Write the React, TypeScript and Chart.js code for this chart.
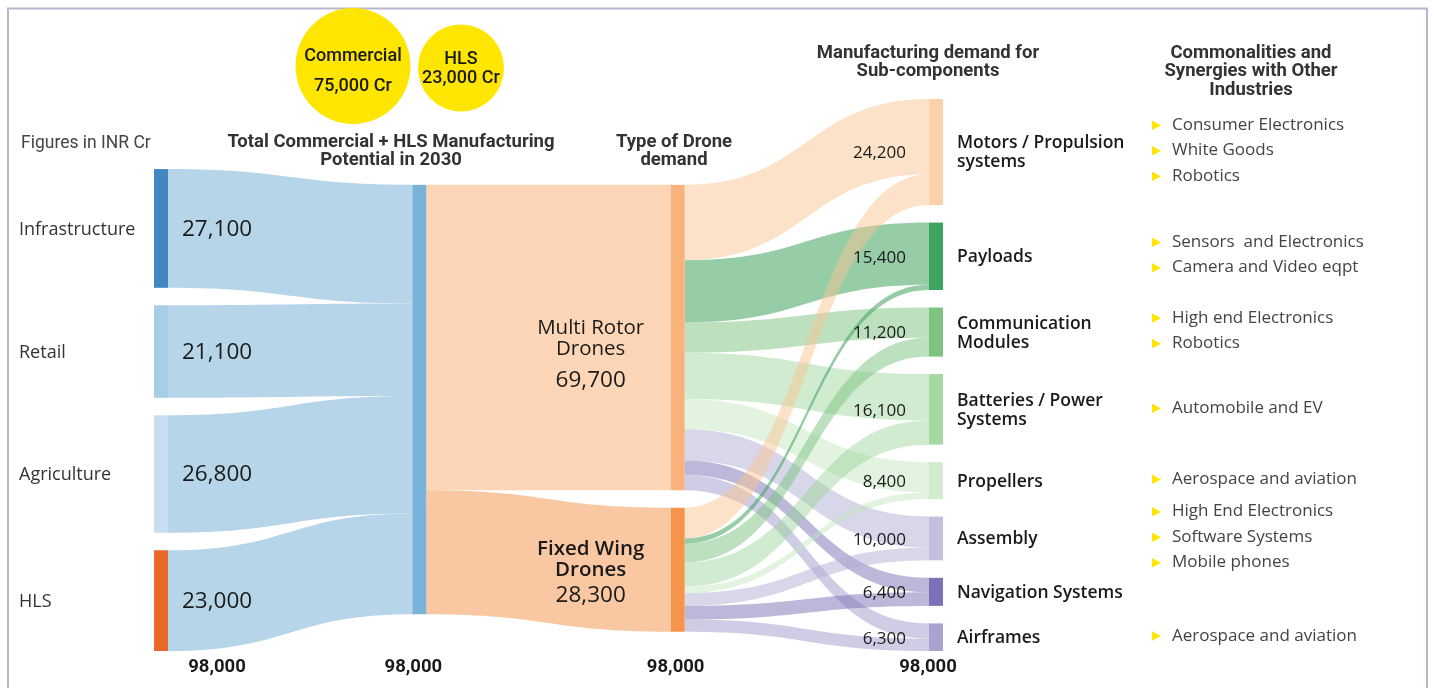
import React, { useEffect, useRef } from "react";
import { Chart, registerables } from "chart.js";

Chart.register(...registerables);

// ---------------- data ----------------
const unitNote = "Figures in INR Cr";
const segmentLabels = ["Infrastructure", "Retail", "Agriculture", "HLS"];
const segmentValues = [27100, 21100, 26800, 23000];
const splitLabels = ["Commercial", "HLS"];
const splitValues = [75000, 23000];
const droneTypeLabels = [
  ["Multi Rotor", "Drones"],
  ["Fixed Wing", "Drones"],
];
const droneTypeValues = [69700, 28300];
const componentLabels = [
  ["Motors / Propulsion", "systems"],
  ["Payloads"],
  ["Communication", "Modules"],
  ["Batteries / Power", "Systems"],
  ["Propellers"],
  ["Assembly"],
  ["Navigation Systems"],
  ["Airframes"],
];
const componentValues = [24200, 15400, 11200, 16100, 8400, 10000, 6400, 6300];
const multiRotorToComponent = [17200, 14200, 6900, 10600, 6900, 7100, 3300, 3500];
const fixedWingToComponent = [7000, 1200, 4300, 5500, 1500, 2900, 3100, 2800];
const synergyLabels = [
  ["Consumer Electronics", "White Goods", "Robotics"],
  ["Sensors  and Electronics", "Camera and Video eqpt"],
  ["High end Electronics", "Robotics"],
  ["Automobile and EV"],
  ["Aerospace and aviation"],
  ["High End Electronics", "Software Systems", "Mobile phones"],
  [],
  ["Aerospace and aviation"],
];
const columnTitles = [
  ["Total Commercial + HLS Manufacturing", "Potential in 2030"],
  ["Type of Drone", "demand"],
  ["Manufacturing demand for", "Sub-components"],
  ["Commonalities and", "Synergies with Other", "Industries"],
];

// ---------------- styles / layout ----------------
const FONT = '"Open Sans", "Noto Sans", sans-serif';
const HEAD = 'Roboto, "Noto Sans", sans-serif';
const NODE_W = 14;
const GAP = 4; // thousands
const COL_OFFSET = [16, 19.6, 19.6, 0]; // thousands
const segmentNodeColors = ["#4387c2", "#a8cde6", "#c8def0", "#e8692a"];
const totalNodeColor = "#7ab3d9";
const segmentLinkColor = "#b7d5e8";
const typeNodeColors = ["#f9b27b", "#f7944b"];
const typeLinkColors = ["#fcd6b6", "#f9c7a1"];
const componentNodeColors = ["#f9d1aa", "#3fa45f", "#7cc47f", "#a6d8a4", "#d0ebcd", "#c3c0de", "#7a71b6", "#a9a3cf"];
const componentLinkColors = [
  "rgba(247,197,148,0.5)",
  "rgba(63,164,95,0.55)",
  "rgba(124,196,127,0.5)",
  "rgba(150,210,148,0.45)",
  "rgba(190,228,186,0.45)",
  "rgba(178,175,214,0.5)",
  "rgba(122,113,182,0.5)",
  "rgba(160,154,204,0.5)",
];
const YELLOW = "#ffe600";

const fmt = (v: number) => v.toLocaleString("en-US");
const sum = (a: number[]) => a.reduce((p, c) => p + c, 0);

type N = { v: number; color: string; y0: number; y1: number; out: number; inn: number };

const sankeyPlugin = {
  id: "sankeyDraw",
  afterDraw(chart: any) {
    const ctx: CanvasRenderingContext2D = chart.ctx;
    const xs = chart.scales.x;
    const ys = chart.scales.y;
    const X = (c: number) => xs.getPixelForValue(c);
    const Y = (v: number) => ys.getPixelForValue(v);

    const mk = (v: number, color: string): N => ({ v: v / 1000, color, y0: 0, y1: 0, out: 0, inn: 0 });
    const cols: N[][] = [
      segmentValues.map((v, i) => mk(v, segmentNodeColors[i])),
      [mk(sum(segmentValues), totalNodeColor)],
      droneTypeValues.map((v, i) => mk(v, typeNodeColors[i])),
      componentValues.map((v, i) => mk(v, componentNodeColors[i])),
    ];
    cols.forEach((nodes, c) => {
      let y = COL_OFFSET[c];
      nodes.forEach((n) => {
        n.y0 = y;
        n.y1 = y + n.v;
        n.out = y;
        n.inn = y;
        y = n.y1 + GAP;
      });
    });

    const links: { s: N; t: N; c: number; v: number; color: string }[] = [];
    segmentValues.forEach((v, i) => links.push({ s: cols[0][i], t: cols[1][0], c: 0, v: v / 1000, color: segmentLinkColor }));
    droneTypeValues.forEach((v, j) => links.push({ s: cols[1][0], t: cols[2][j], c: 1, v: v / 1000, color: typeLinkColors[j] }));
    [multiRotorToComponent, fixedWingToComponent].forEach((arr, j) =>
      arr.forEach((v, k) => links.push({ s: cols[2][j], t: cols[3][k], c: 2, v: v / 1000, color: componentLinkColors[k] }))
    );

    ctx.save();
    // frame
    ctx.strokeStyle = "#b8b6cf";
    ctx.lineWidth = 2;
    ctx.beginPath();
    ctx.moveTo(8, 700);
    ctx.lineTo(8, 8.5);
    ctx.lineTo(1427, 8.5);
    ctx.lineTo(1427, 700);
    ctx.stroke();

    // links
    for (const l of links) {
      const sy0 = Y(l.s.out);
      const sy1 = Y(l.s.out + l.v);
      l.s.out += l.v;
      const ty0 = Y(l.t.inn);
      const ty1 = Y(l.t.inn + l.v);
      l.t.inn += l.v;
      const x0 = X(l.c) + NODE_W;
      const x1 = X(l.c + 1);
      const xm = (x0 + x1) / 2;
      ctx.beginPath();
      ctx.moveTo(x0, sy0);
      ctx.bezierCurveTo(xm, sy0, xm, ty0, x1, ty0);
      ctx.lineTo(x1, ty1);
      ctx.bezierCurveTo(xm, ty1, xm, sy1, x0, sy1);
      ctx.closePath();
      ctx.fillStyle = l.color;
      ctx.fill();
    }

    // nodes
    cols.forEach((nodes, c) =>
      nodes.forEach((n) => {
        ctx.fillStyle = n.color;
        ctx.fillRect(X(c), Y(n.y0), NODE_W, Y(n.y1) - Y(n.y0));
      })
    );

    const text = (s: string, x: number, y: number, font: string, color: string, align: CanvasTextAlign = "left") => {
      ctx.font = font;
      ctx.fillStyle = color;
      ctx.textAlign = align;
      ctx.textBaseline = "middle";
      ctx.fillText(s, x, y);
    };
    const mid = (n: N) => (Y(n.y0) + Y(n.y1)) / 2;

    // column 0 labels + values
    cols[0].forEach((n, i) => {
      text(segmentLabels[i], X(0) - 135, mid(n) + 1, `18px ${FONT}`, "#333");
      text(fmt(segmentValues[i]), X(0) + 28, mid(n) + 1, `22.5px ${FONT}`, "#1a1a1a");
    });

    // column 2 labels
    const typeLayouts = [
      [-9, 12, 43],
      [-21, 0, 26],
    ];
    cols[2].forEach((n, i) => {
      const cx = X(2) - 80;
      const c = mid(n);
      const lay = typeLayouts[i];
      const w = i === 0 ? "500" : "600";
      text(droneTypeLabels[i][0], cx, c + lay[0], `${w} 20.5px ${FONT}`, "#1a1a1a", "center");
      text(droneTypeLabels[i][1], cx, c + lay[1], `${w} 20.5px ${FONT}`, "#1a1a1a", "center");
      text(fmt(droneTypeValues[i]), cx, c + lay[2], `22.5px ${FONT}`, "#1a1a1a", "center");
    });

    // column 3 values, labels, synergies
    cols[3].forEach((n, i) => {
      const c = mid(n);
      text(fmt(componentValues[i]), X(3) - 23, c + 1.5, `17px ${FONT}`, "#1a1a1a", "right");
      const lines = componentLabels[i];
      lines.forEach((ln, k) => {
        text(ln, X(3) + 28, c + 1 + (k - (lines.length - 1) / 2) * 19, `600 17.5px ${FONT}`, "#1a1a1a");
      });
      const syn = synergyLabels[i];
      syn.forEach((s, k) => {
        const yy = c - 1.5 + (k - (syn.length - 1) / 2) * 25.5;
        const tx = X(3) + 223;
        ctx.fillStyle = YELLOW;
        ctx.beginPath();
        ctx.moveTo(tx, yy - 4.5);
        ctx.lineTo(tx + 9, yy + 0.5);
        ctx.lineTo(tx, yy + 5);
        ctx.closePath();
        ctx.fill();
        text(s, X(3) + 243, yy, `17px ${FONT}`, "#444");
      });
    });

    // column totals
    const totalOffsets = [63, 1, 5, -1];
    cols.forEach((nodes, c) => {
      const tot = sum(nodes.map((n) => n.v)) * 1000;
      text(fmt(Math.round(tot)), X(c) + totalOffsets[c], 667, `bold 18.5px ${HEAD}`, "#1a1a1a", "center");
    });

    // headers
    text(unitNote, 21, 144, `17.5px ${HEAD}`, "#444");
    const titlePos = [
      [391, 142],
      [674, 142],
      [928, 53],
      [1251, 53],
    ];
    columnTitles.forEach((lines, i) => {
      lines.forEach((ln, k) => {
        text(ln, titlePos[i][0], titlePos[i][1] + k * 18.8, `bold 18.5px ${HEAD}`, "#333", "center");
      });
    });

    // bubbles
    const bubbles = [
      { x: 353, y: 66, r: 57.5, ly: [-10, 20] },
      { x: 461, y: 68, r: 43, ly: [-9, 10] },
    ];
    bubbles.forEach((b, i) => {
      ctx.fillStyle = YELLOW;
      ctx.beginPath();
      ctx.ellipse(b.x, b.y, b.r, b.r + 0.5, 0, 0, Math.PI * 2);
      ctx.fill();
      text(splitLabels[i], b.x, b.y + b.ly[0], `500 18px ${HEAD}`, "#1a1a1a", "center");
      text(`${fmt(splitValues[i])} Cr`, b.x, b.y + b.ly[1], `500 18px ${HEAD}`, "#1a1a1a", "center");
    });

    ctx.restore();
  },
};

export default function App() {
  const ref = useRef<HTMLCanvasElement>(null);
  useEffect(() => {
    document.body.style.margin = "0";
    const chart = new Chart(ref.current as HTMLCanvasElement, {
      type: "scatter",
      data: { datasets: [] },
      options: {
        responsive: false,
        animation: false,
        events: [],
        layout: { padding: { left: 154, right: 505, top: 99, bottom: 37 } },
        scales: {
          x: { type: "linear", min: 0, max: 3, display: false },
          y: { type: "linear", min: 0, max: 126, reverse: true, display: false },
        },
        plugins: { legend: { display: false }, tooltip: { enabled: false } },
      },
      plugins: [sankeyPlugin],
    });
    return () => chart.destroy();
  }, []);
  return (
    <div style={{ position: "absolute", left: 0, top: 0, width: 1434, height: 688, background: "#fff" }}>
      <canvas ref={ref} width={1434} height={688} style={{ display: "block" }} />
    </div>
  );
}
